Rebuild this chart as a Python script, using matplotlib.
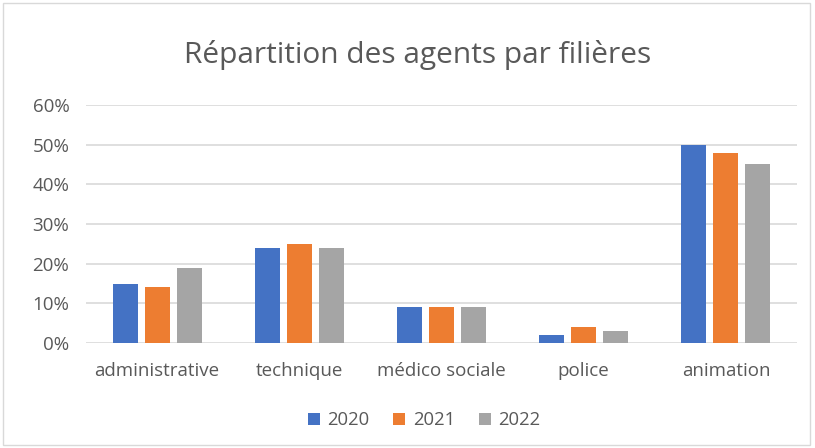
import numpy as np
import matplotlib.pyplot as plt
from matplotlib.patches import Rectangle
from matplotlib.ticker import PercentFormatter

plt.rcParams['font.family'] = ['Open Sans', 'DejaVu Sans']

categories = ['administrative', 'technique', 'médico sociale', 'police', 'animation']
years = ['2020', '2021', '2022']
v2020 = [0.15, 0.24, 0.09, 0.02, 0.50]
v2021 = [0.14, 0.25, 0.09, 0.04, 0.48]
v2022 = [0.19, 0.24, 0.09, 0.03, 0.45]
colors = ['#4472C4', '#ED7D31', '#A5A5A5']

text_col = '#595959'

fig = plt.figure(figsize=(8.15, 4.48), dpi=100)
ax = fig.add_axes([86 / 815, 1 - 343 / 448, 711 / 815, 238 / 448])

# light border around the chart area
fig.patches.append(Rectangle((0.004, 0.006), 0.99, 0.988, transform=fig.transFigure,
                             fill=False, edgecolor='#D9D9D9', lw=1))

x = np.arange(len(categories))
step = 0.225
width = 0.176
for i, (vals, col, yr) in enumerate(zip([v2020, v2021, v2022], colors, years)):
    ax.bar(x + (i - 1) * step, vals, width, color=col, label=yr, zorder=3)

ax.set_xlim(-0.5, len(categories) - 0.5)
ax.set_ylim(0, 0.6)
ax.set_yticks(np.arange(0, 0.61, 0.1))
ax.yaxis.set_major_formatter(PercentFormatter(1.0, decimals=0))
ax.set_xticks(x)
ax.set_xticklabels(categories)
ax.grid(axis='y', color='#D9D9D9', lw=1.2, zorder=0)
for s in ax.spines.values():
    s.set_visible(False)
ax.tick_params(length=0, labelsize=13.5, colors=text_col)
ax.tick_params(axis='x', pad=14)
ax.tick_params(axis='y', pad=12)

fig.text(0.512, 1 - 55 / 448, 'Répartition des agents par filières', ha='center', va='center',
         fontsize=21.5, color=text_col)

ax.legend(loc='center', bbox_to_anchor=(0.5 + (424 - 441.5) / 711, -0.325), ncol=3, frameon=False,
          fontsize=13.3, labelcolor=text_col, handlelength=0.65, handleheight=0.65,
          handletextpad=0.4, columnspacing=1.3)

fig.savefig('out.png', dpi=100)
